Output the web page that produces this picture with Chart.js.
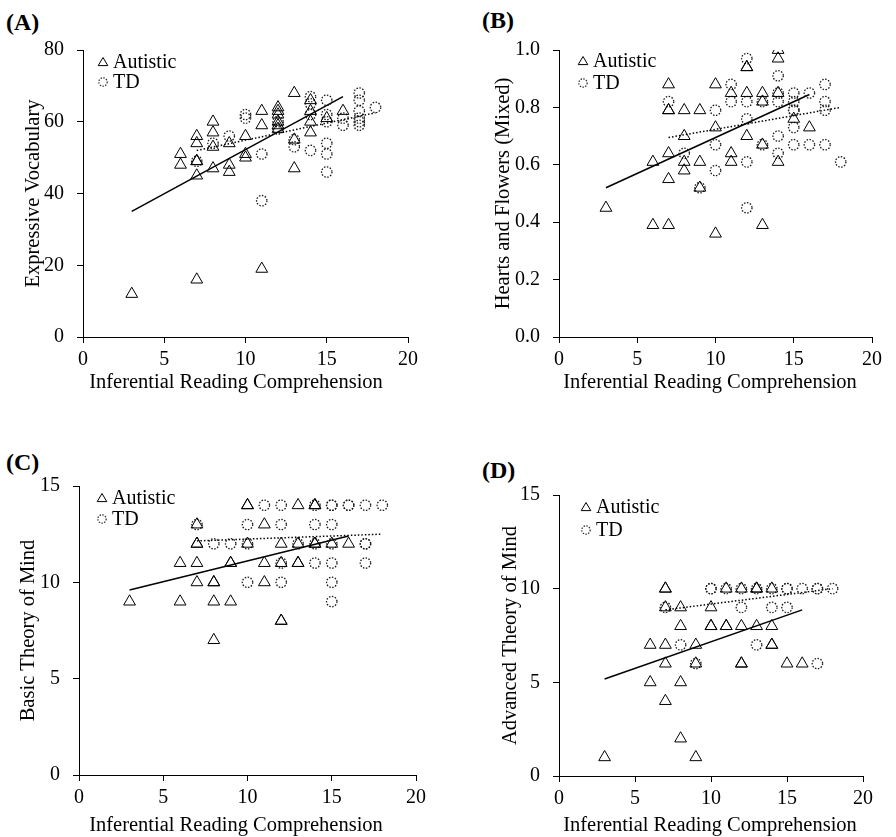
<!DOCTYPE html>
<html><head><meta charset="utf-8">
<script src="https://cdn.jsdelivr.net/npm/chart.js@4.4.1/dist/chart.umd.min.js"></script>
<style>
html,body{margin:0;padding:0;background:#fff;width:896px;height:837px;overflow:hidden;}
.pane{position:absolute;}
.lab{position:absolute;font:bold 24px "Liberation Serif";line-height:24px;color:#000;}
.pre{position:absolute;left:-999px;top:0;font:20px "Liberation Serif";}
</style></head><body>
<span class="pre">Autistic TD 0123456789</span>
<div class="lab" style="left:6px;top:10px">(A)</div>
<div class="lab" style="left:482px;top:8px">(B)</div>
<div class="lab" style="left:6px;top:450px">(C)</div>
<div class="lab" style="left:482px;top:458px">(D)</div>
<div class="pane" style="left:0;top:0"><canvas id="cA" width="448" height="400"></canvas></div>
<div class="pane" style="left:448px;top:0"><canvas id="cB" width="448" height="400"></canvas></div>
<div class="pane" style="left:0;top:418px"><canvas id="cC" width="448" height="419"></canvas></div>
<div class="pane" style="left:448px;top:418px"><canvas id="cD" width="448" height="419"></canvas></div>
<script>
// ---------- data ----------
const seriesNames = ['Autistic', 'TD'];
const xTitle = 'Inferential Reading Comprehension';
const xTicks = [0, 5, 10, 15, 20];
const yTicksA = [0, 20, 40, 60, 80];
const yTicksB = [0, 0.2, 0.4, 0.6, 0.8, 1.0];
const yTicksC = [0, 5, 10, 15];
const yTicksD = [0, 5, 10, 15];

// (A) Expressive Vocabulary
const autA_x = [3,6,6,7,7,7,7,7,7,8,8,8,8,9,9,9,10,10,10,11,11,11,12,12,12,12,12,12,13,13,13,14,14,14,14,15,16];
const autA_y = [12,51,48,56,54,49,49,45,16,60,57,53,47,54,48,46,56,51,50,63,59,19,64,63,62,60,59,58,68,55,47,66,63,60,57,61,63];
const tdA_x = [7,8,9,10,10,11,11,12,12,13,13,14,14,14,14,15,15,15,15,15,15,16,16,17,17,17,17,17,17,18];
const tdA_y = [49,54,56,62,61,51,38,60,58,55,53,67,65,62,52,66,62,60,54,51,46,61,59,68,66,63,61,60,59,64];
const trendA_aut = [[3,35],[16,67]];
const trendA_td = [[7,52],[18,62.5]];

// (B) Hearts and Flowers (Mixed)
const autB_x = [3,6,6,7,7,7,7,7,7,8,8,8,8,9,9,9,10,10,10,11,11,11,12,12,12,12,13,13,13,13,14,14,14,14,15,16];
const autB_y = [0.45,0.61,0.39,0.88,0.79,0.79,0.64,0.55,0.39,0.79,0.70,0.61,0.58,0.79,0.61,0.52,0.88,0.73,0.36,0.85,0.64,0.61,0.94,0.94,0.85,0.70,0.85,0.82,0.67,0.39,1.0,0.97,0.85,0.61,0.76,0.73];
const tdB_x = [7,8,9,10,10,10,11,11,12,12,12,12,12,13,13,14,14,14,14,14,15,15,15,15,15,15,16,16,17,17,17,17,18];
const tdB_y = [0.82,0.64,0.52,0.79,0.67,0.58,0.88,0.82,0.97,0.82,0.76,0.61,0.45,0.82,0.67,0.91,0.85,0.82,0.70,0.64,0.85,0.82,0.79,0.79,0.73,0.67,0.85,0.67,0.88,0.82,0.79,0.67,0.61];
const trendB_aut = [[3,0.52],[16,0.845]];
const trendB_td = [[7,0.695],[18,0.80]];

// (C) Basic Theory of Mind
const autC_x = [3,6,6,7,7,7,7,7,8,8,8,8,9,9,9,10,10,10,11,11,11,12,12,12,12,13,13,13,13,14,14,14,14,15,16];
const autC_y = [9,11,9,13,12,12,11,10,10,10,9,7,11,11,9,14,14,12,13,11,10,12,11,8,8,14,12,11,11,14,14,12,12,12,12];
const tdC_x = [7,8,9,10,10,10,11,12,12,12,12,13,14,14,14,14,15,15,15,15,15,15,15,16,16,17,17,17,17,18];
const tdC_y = [13,12,12,13,12,10,14,14,13,11,10,12,14,13,12,11,14,14,13,12,11,10,9,14,14,14,12,12,11,14];
const trendC_aut = [[3,9.6],[16,12.4]];
const trendC_td = [[7,12.15],[18,12.5]];

// (D) Advanced Theory of Mind
const autD_x = [3,6,6,7,7,7,7,7,7,8,8,8,8,9,9,9,10,10,10,11,11,11,12,12,12,12,13,13,13,14,14,14,14,15,16];
const autD_y = [1,7,5,10,10,9,7,6,4,9,8,5,2,7,6,1,9,8,8,10,8,8,10,8,6,6,10,10,8,10,8,7,7,6,6];
const tdD_x = [7,8,9,10,10,11,12,12,13,13,14,14,15,15,15,16,17,17,17,18];
const tdD_y = [9,7,6,10,10,10,10,9,10,7,10,9,10,10,9,10,10,10,6,10];
const trendD_aut = [[3,5.18],[16,8.87]];
const trendD_td = [[7,8.87],[18,10]];

// ---------- drawing ----------
const FONT = 'Liberation Serif';
const pts = (xs, ys) => xs.map((x, i) => ({x: x, y: ys[i]}));
const pairs = a => a.map(p => ({x: p[0], y: p[1]}));

const dottedPlugin = {
  id: 'dottedPoints',
  beforeDatasetDraw(chart, args) {
    if (chart.data.datasets[args.index].dottedPoints) {
      chart.ctx.save();
      chart.ctx.setLineDash([1.5, 1.5]);
    }
  },
  afterDatasetDraw(chart, args) {
    if (chart.data.datasets[args.index].dottedPoints) chart.ctx.restore();
  }
};

const legendPlugin = {
  id: 'inLegend',
  afterDraw(chart, args, opts) {
    const ctx = chart.ctx, a = chart.chartArea;
    const x = a.left + opts.dx, y1 = a.top + opts.dy, y2 = y1 + opts.gap;
    ctx.save();
    ctx.strokeStyle = '#000'; ctx.lineWidth = 1;
    ctx.beginPath();
    ctx.moveTo(x, y1 - 4.5); ctx.lineTo(x + 4.8, y1 + 3.6); ctx.lineTo(x - 4.8, y1 + 3.6); ctx.closePath();
    ctx.stroke();
    ctx.setLineDash([1.4, 1.4]); ctx.strokeStyle = '#222'; ctx.lineWidth = 1.2;
    ctx.beginPath(); ctx.arc(x, y2, 4.2, 0, Math.PI * 2); ctx.stroke();
    ctx.setLineDash([]);
    ctx.fillStyle = '#000';
    ctx.font = '20px "' + FONT + '"';
    ctx.textBaseline = 'middle';
    ctx.fillText(seriesNames[0], x + 10, y1 + 1);
    ctx.fillText(seriesNames[1], x + 10, y2 + 1);
    // x-axis title, centred like the original figure
    ctx.font = '20.5px "' + FONT + '"';
    ctx.textAlign = 'center';
    ctx.fillText(xTitle, opts.tx, opts.ty);
    ctx.restore();
  }
};

function makeChart(id, c) {
  const datasets = [
    {label: seriesNames[0], data: pts(c.autX, c.autY), pointStyle: 'triangle', pointRadius: 6.8,
     pointBorderColor: '#000', pointBackgroundColor: 'rgba(0,0,0,0)', pointBorderWidth: 1, showLine: false},
    {label: seriesNames[1], data: pts(c.tdX, c.tdY), pointStyle: 'circle', pointRadius: 5.2,
     pointBorderColor: '#1a1a1a', pointBackgroundColor: 'rgba(0,0,0,0)', pointBorderWidth: 1.3, showLine: false, dottedPoints: true},
    {label: 'trend ' + seriesNames[0], data: pairs(c.trendAut), showLine: true, pointRadius: 0,
     borderColor: '#000', borderWidth: 1.5, fill: false},
    {label: 'trend ' + seriesNames[1], data: pairs(c.trendTd), showLine: true, pointRadius: 0,
     borderColor: '#000', borderWidth: 1.5, borderDash: [1.5, 2], fill: false}
  ];
  const tickFont = {family: '"' + FONT + '"', size: 20};
  return new Chart(document.getElementById(id), {
    type: 'scatter',
    data: {datasets: datasets},
    plugins: [dottedPlugin, legendPlugin],
    options: {
      responsive: false, animation: false, devicePixelRatio: 1, events: [],
      layout: {padding: c.pad},
      plugins: {legend: {display: false}, tooltip: {enabled: false},
                inLegend: c.legend},
      scales: {
        x: {
          type: 'linear', min: 0, max: 20,
          afterBuildTicks: s => { s.ticks = xTicks.map(v => ({value: v})); },
          afterFit: s => { s.height = c.xH; },
          ticks: {font: tickFont, color: '#000', padding: 5, maxRotation: 0, autoSkip: false},
          grid: {drawOnChartArea: false, color: '#000', tickLength: 6, lineWidth: 1},
          border: {color: '#000', width: 1},
          title: {display: false, text: xTitle}
        },
        y: {
          type: 'linear', min: c.yTicks[0], max: c.yTicks[c.yTicks.length - 1],
          afterBuildTicks: s => { s.ticks = c.yTicks.map(v => ({value: v})); },
          afterFit: s => { s.width = c.yW; },
          ticks: {font: tickFont, color: '#000', padding: 13, autoSkip: false,
                  callback: v => c.fmt ? c.fmt(v) : String(v)},
          grid: {drawOnChartArea: false, color: '#000', tickLength: 6, lineWidth: 1},
          border: {color: '#000', width: 1},
          title: {display: true, text: c.yTitle, font: {family: '"' + FONT + '"', size: 20.5}, color: '#000', padding: {top: c.yTitlePad, bottom: 0}}
        }
      }
    }
  });
}

function drawAll() {
  makeChart('cA', {autX: autA_x, autY: autA_y, tdX: tdA_x, tdY: tdA_y, trendAut: trendA_aut, trendTd: trendA_td,
    yTicks: yTicksA, yTitle: 'Expressive Vocabulary', pad: {top: 50, right: 40, left: 0, bottom: 0},
    yW: 83, xH: 63, yTitlePad: 21, legend: {dx: 20, dy: 12, gap: 20, tx: 236, ty: 383}});
  makeChart('cB', {autX: autB_x, autY: autB_y, tdX: tdB_x, tdY: tdB_y, trendAut: trendB_aut, trendTd: trendB_td,
    yTicks: yTicksB, yTitle: 'Hearts and Flowers (Mixed)', fmt: v => v.toFixed(1), pad: {top: 50, right: 24, left: 0, bottom: 0},
    yW: 111, xH: 63, yTitlePad: 43, legend: {dx: 24, dy: 11, gap: 22, tx: 262, ty: 383}});
  makeChart('cC', {autX: autC_x, autY: autC_y, tdX: tdC_x, tdY: tdC_y, trendAut: trendC_aut, trendTd: trendC_td,
    yTicks: yTicksC, yTitle: 'Basic Theory of Mind', pad: {top: 68, right: 32, left: 0, bottom: 0},
    yW: 79, xH: 62, yTitlePad: 16, legend: {dx: 23, dy: 12, gap: 21, tx: 236, ty: 408}});
  makeChart('cD', {autX: autD_x, autY: autD_y, tdX: tdD_x, tdY: tdD_y, trendAut: trendD_aut, trendTd: trendD_td,
    yTicks: yTicksD, yTitle: 'Advanced Theory of Mind', pad: {top: 77, right: 33, left: 0, bottom: 0},
    yW: 111, xH: 61, yTitlePad: 50, legend: {dx: 27, dy: 12, gap: 23, tx: 262, ty: 408}});
}
if (document.fonts && document.fonts.load) {
  document.fonts.load('20px "' + FONT + '"').then(drawAll, drawAll);
} else {
  drawAll();
}
</script>
</body></html>
